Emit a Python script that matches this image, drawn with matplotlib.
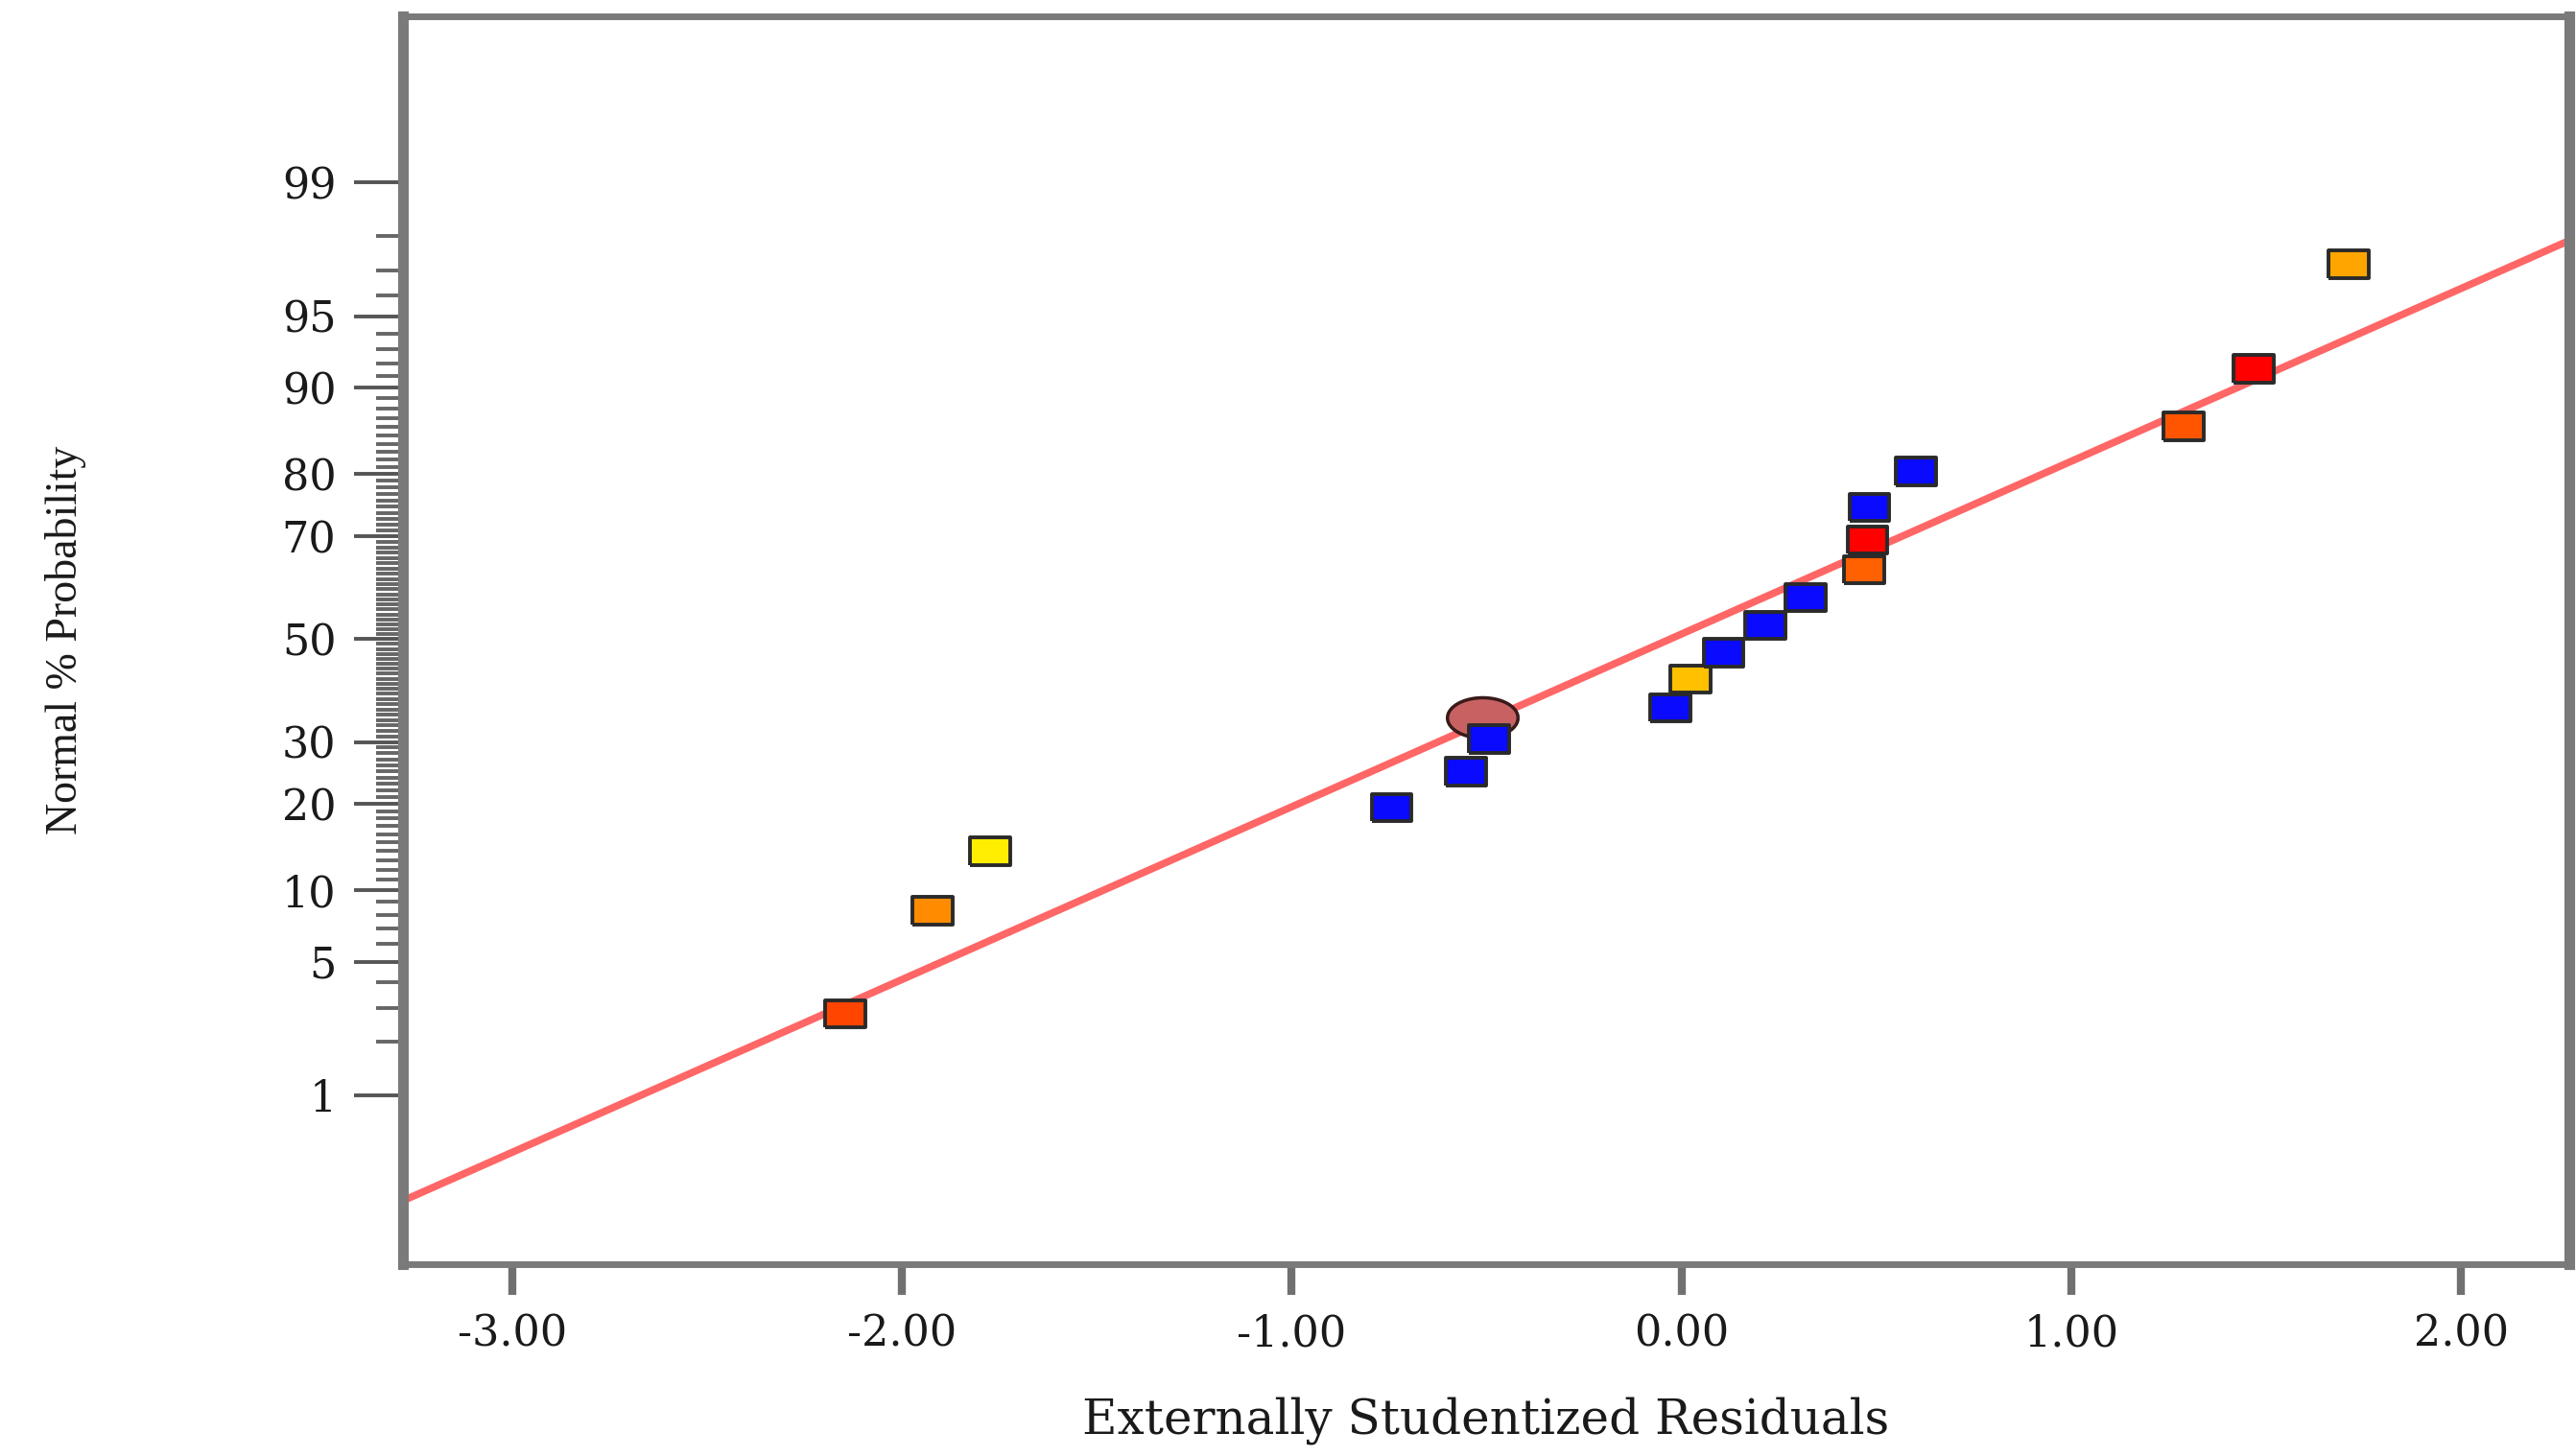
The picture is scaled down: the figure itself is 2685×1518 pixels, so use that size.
#!/usr/bin/python

#Importing modules:
import numpy as np
import matplotlib
matplotlib.use('Agg')
import matplotlib.pyplot as plt
from matplotlib.ticker import NullFormatter
from statistics import NormalDist

#Values:
residuals = [-2.146, -1.922, -1.774, -0.744, -0.553, -0.494, -0.029, 0.023, 0.108,
             0.215, 0.319, 0.469, 0.477, 0.482, 0.602, 1.288, 1.468, 1.712]
probability = [2.8, 8.3, 14.0, 19.5, 24.9, 30.5, 36.3, 41.9, 47.2,
               52.8, 58.4, 63.8, 69.3, 74.9, 80.4, 86.1, 91.6, 97.2]

#Highlighted run (the round marker):
circleResidual = [-0.511]
circleProbability = [34.5]

#Reference line end points:
lineResidual = [-3.28, 2.28]
lineProbability = [0.21, 97.9]

#Axis ticks:
yTicks = [1, 5, 10, 20, 30, 50, 70, 80, 90, 95, 99]
yTickLabels = ['1', '5', '10', '20', '30', '50', '70', '80', '90', '95', '99']
xTicks = [-3, -2, -1, 0, 1, 2]
xTickLabels = ['-3.00', '-2.00', '-1.00', '0.00', '1.00', '2.00']

#Colours of the squares (coloured by response value):
blue = '#0a0aff'
pointColors = ['#ff4500', '#ff8c00', '#ffee00', blue, blue, blue, blue, '#ffc000', blue,
               blue, blue, '#ff6000', '#ff0000', blue, blue, '#ff5500', '#ff0000', '#ffa500']

#Normal probability scale:
dist = NormalDist()

def forward(p):
    p = np.clip(np.asarray(p, dtype=float) / 100.0, 1e-9, 1 - 1e-9)
    return np.vectorize(dist.inv_cdf, otypes=[float])(p)

def inverse(z):
    z = np.asarray(z, dtype=float)
    return np.vectorize(dist.cdf, otypes=[float])(z) * 100.0

plt.rcParams['font.family'] = ['DejaVu Serif']

fig = plt.figure(figsize=(26.85, 15.18), dpi=100)
ax = fig.add_axes([0.1564, 0.1318, 0.841, 0.857])
ax.set_yscale('function', functions=(forward, inverse))

#Reference line:
ax.plot(lineResidual, lineProbability, color='#ff6666', linewidth=5.5, zorder=2,
        solid_capstyle='butt')

#Round marker and squares (wide shapes, the picture is stretched sideways):
ellipse = [(1.75 * np.cos(t), np.sin(t)) for t in np.linspace(0, 2 * np.pi, 60)]
rect = [(-1.45, -1), (1.45, -1), (1.45, 1), (-1.45, 1), (-1.45, -1)]
ax.scatter(circleResidual, circleProbability, marker=ellipse, s=53 ** 2,
           color='#c86262', edgecolors='#3a1a1a', linewidths=2.5, zorder=3)
ax.scatter(residuals, probability, marker=rect, s=30 ** 2, c=pointColors,
           edgecolors='#2a2a2a', linewidths=2.8, zorder=4)

#Limits and ticks:
ax.set_xlim(-3.281, 2.278)
ax.set_ylim(0.072, 99.925)
ax.set_xticks(xTicks, labels=xTickLabels)
ax.set_yticks(yTicks, labels=yTickLabels)
minorTicks = [v for v in range(2, 99) if v not in yTicks]
ax.set_yticks(minorTicks, minor=True)
ax.yaxis.set_minor_formatter(NullFormatter())

ax.tick_params(axis='y', which='major', direction='out', length=37, width=2.8,
               color='#555555', pad=13, labelsize=32, labelcolor='#1a1a1a')
ax.tick_params(axis='y', which='minor', direction='out', length=20, width=2.8,
               color='#666666')
ax.tick_params(axis='x', which='major', direction='out', length=23, width=6,
               color='#707070', pad=14, labelsize=32, labelcolor='#1a1a1a')

#Frame:
for side in ['left', 'right']:
    ax.spines[side].set_linewidth(8)
    ax.spines[side].set_color('#7a7a7a')
for side in ['top', 'bottom']:
    ax.spines[side].set_linewidth(5)
    ax.spines[side].set_color('#7a7a7a')

#Labels:
ax.set_xlabel('Externally Studentized Residuals', fontsize=36, color='#1a1a1a')
ax.xaxis.set_label_coords(0.5, -0.106)
ax.set_ylabel('Normal % Probability', fontsize=33, color='#1a1a1a',
              family=['Liberation Serif'])
ax.yaxis.set_label_coords(-0.146, 0.5)

fig.savefig('out.png', dpi=100)
